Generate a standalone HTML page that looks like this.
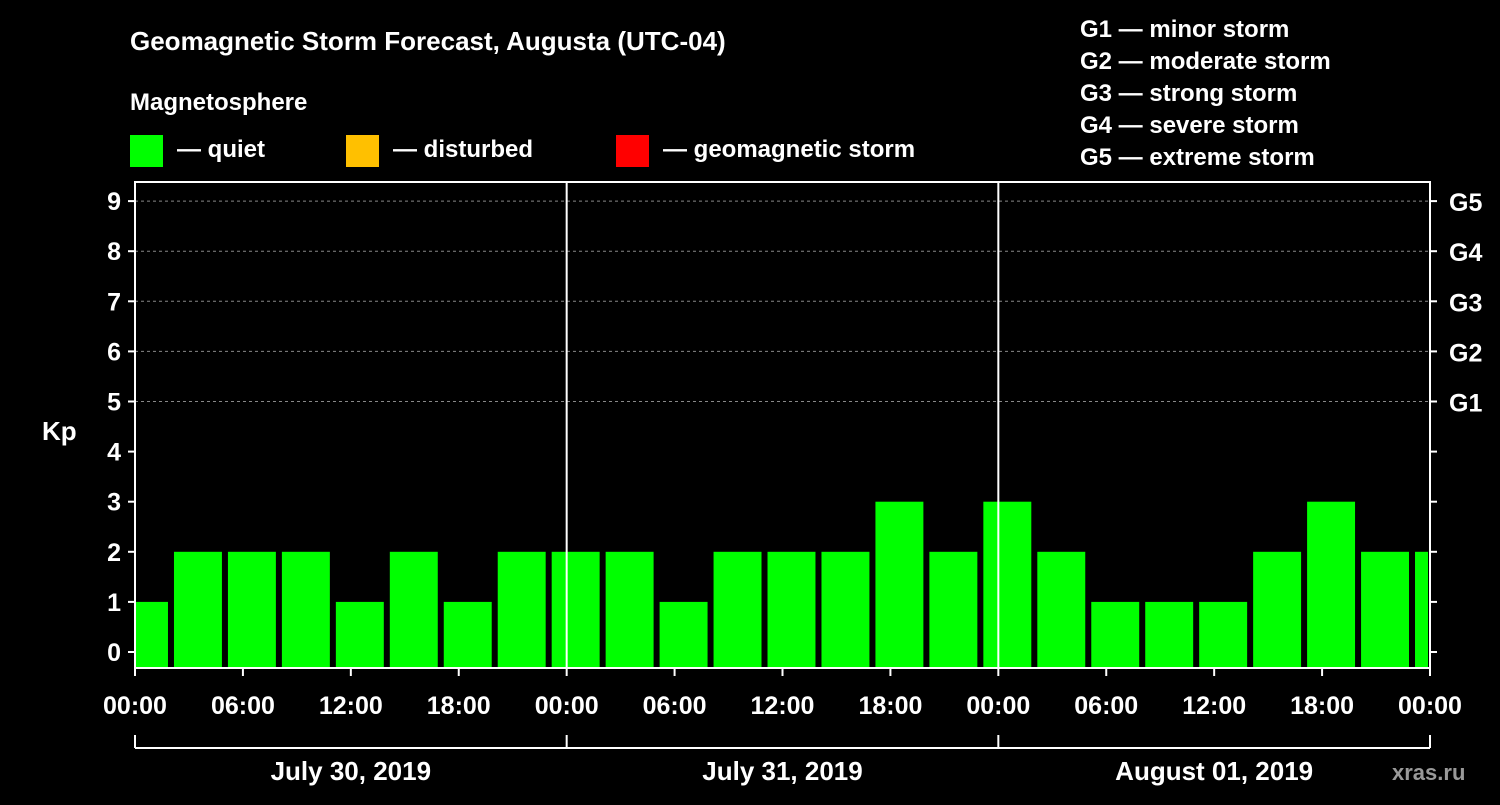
<!DOCTYPE html>
<html><head><meta charset="utf-8"><style>
body{margin:0;background:#000;}
svg text{font-family:"Liberation Sans",sans-serif;font-weight:bold;fill:#fff;}
</style></head><body>
<svg width="1500" height="800" viewBox="0 0 1500 800">
<rect width="1500" height="800" fill="#000"/>
<text x="130" y="50" font-size="26">Geomagnetic Storm Forecast, Augusta (UTC-04)</text>
<text x="130" y="110" font-size="24">Magnetosphere</text>
<g><rect x="130" y="135" width="33" height="32" fill="#00ff00"/><text x="177" y="157" font-size="24">— quiet</text></g>
<g><rect x="346" y="135" width="33" height="32" fill="#ffc000"/><text x="393" y="157" font-size="24">— disturbed</text></g>
<g><rect x="616" y="135" width="33" height="32" fill="#ff0000"/><text x="663" y="157" font-size="24">— geomagnetic storm</text></g>
<g font-size="24">
<text x="1080" y="37">G1 — minor storm</text>
<text x="1080" y="69">G2 — moderate storm</text>
<text x="1080" y="101">G3 — strong storm</text>
<text x="1080" y="133">G4 — severe storm</text>
<text x="1080" y="165">G5 — extreme storm</text>
</g>
<text x="42" y="440" font-size="26">Kp</text>
<text x="1392" y="780" font-size="22" fill="#888" style="fill:#999">xras.ru</text>
<g id="grid"></g>
<g id="bars"></g>
<g id="axes"></g>
</svg>
<script>
const values=[1,2,2,2,1,2,1,2,2,2,1,2,2,2,3,2,3,2,1,1,1,2,3,2,2];
const yTicks=[0,1,2,3,4,5,6,7,8,9];
const gLabels=["G1","G2","G3","G4","G5"];
const xTickLabels=["00:00","06:00","12:00","18:00","00:00","06:00","12:00","18:00","00:00","06:00","12:00","18:00","00:00"];
const dateLabels=["July 30, 2019","July 31, 2019","August 01, 2019"];
const NS="http://www.w3.org/2000/svg";
const X0=135,X1=1430,YT=182,YB=668;
const xs=h=>X0+h*(X1-X0)/72;
const ys=v=>652-v*50.1;
function mk(t,a,p){const e=document.createElementNS(NS,t);for(const k in a)e.setAttribute(k,a[k]);p.appendChild(e);return e;}
const grid=document.getElementById('grid'),bars=document.getElementById('bars'),axes=document.getElementById('axes');
for(let v=5;v<=9;v++){const l=mk('line',{x1:X0,x2:X1,y1:ys(v),y2:ys(v),stroke:'#888','stroke-dasharray':'3,3','stroke-width':1},grid);

}
values.forEach((v,i)=>{const c=0.5+3*i;let a=xs(c-1.333),b=xs(c+1.333);a=Math.max(a,X0+1);b=Math.min(b,X1-2);
const r=mk('rect',{x:a,y:ys(v),width:b-a,height:YB-ys(v),fill:'#00ff00'},bars);

});
const frame=mk('rect',{x:X0,y:YT,width:X1-X0,height:YB-YT,fill:'none',stroke:'#fff','stroke-width':2},axes);


[24,48].forEach(h=>{const l=mk('line',{x1:xs(h),x2:xs(h),y1:YT,y2:YB,stroke:'#fff','stroke-width':2},axes);

});
yTicks.forEach(v=>{mk('line',{x1:X0-7,x2:X0,y1:ys(v),y2:ys(v),stroke:'#fff','stroke-width':2},axes);
mk('line',{x1:X1,x2:X1+7,y1:ys(v),y2:ys(v),stroke:'#fff','stroke-width':2},axes);
const t=mk('text',{x:X0-14,y:ys(v)+9,'font-size':25,'text-anchor':'end'},axes);t.textContent=v;

});
gLabels.forEach((g,i)=>{const t=mk('text',{x:X1+19,y:ys(5+i)+10,'font-size':25},axes);t.textContent=g;

});
xTickLabels.forEach((s,i)=>{const x=xs(i*6);mk('line',{x1:x,x2:x,y1:YB,y2:YB+8,stroke:'#fff','stroke-width':2},axes);
const t=mk('text',{x:x,y:714,'font-size':25,'text-anchor':'middle'},axes);t.textContent=s;

});
mk('line',{x1:X0,x2:X1,y1:748,y2:748,stroke:'#fff','stroke-width':2},axes);
[0,24,48,72].forEach(h=>mk('line',{x1:xs(h),x2:xs(h),y1:735,y2:748,stroke:'#fff','stroke-width':2},axes));
dateLabels.forEach((s,i)=>{const t=mk('text',{x:xs(12+24*i),y:780,'font-size':26,'text-anchor':'middle'},axes);t.textContent=s;

});
</script>
</body></html>
